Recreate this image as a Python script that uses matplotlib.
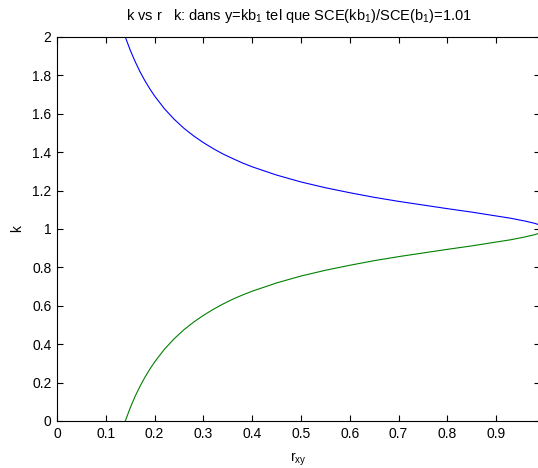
import matplotlib
matplotlib.use("Agg")
import matplotlib.pyplot as plt
from matplotlib.ticker import FormatStrFormatter

# r values read along the x axis
r = [0.13, 0.14, 0.15, 0.16, 0.17, 0.18, 0.19, 0.20, 0.22, 0.24, 0.26, 0.28,
     0.30, 0.32, 0.34, 0.36, 0.38, 0.40, 0.45, 0.50, 0.55, 0.60, 0.65, 0.70,
     0.75, 0.80, 0.85, 0.90, 0.93, 0.95, 0.96, 0.97, 0.98, 0.99]

# upper branch (blue)
k_high = [2.079, 2.000, 1.932, 1.873, 1.820, 1.773, 1.731, 1.693, 1.627, 1.572,
          1.525, 1.485, 1.450, 1.419, 1.391, 1.367, 1.344, 1.324, 1.281, 1.245,
          1.215, 1.189, 1.165, 1.144, 1.125, 1.106, 1.088, 1.068, 1.056, 1.046,
          1.041, 1.035, 1.029, 1.020]

# lower branch (green)
k_low = [-0.079, 0.000, 0.068, 0.128, 0.180, 0.227, 0.269, 0.307, 0.373, 0.428,
         0.475, 0.515, 0.550, 0.581, 0.609, 0.634, 0.656, 0.676, 0.719, 0.755,
         0.785, 0.811, 0.835, 0.856, 0.875, 0.894, 0.912, 0.932, 0.944, 0.954,
         0.959, 0.965, 0.971, 0.980]

plt.rcParams["font.family"] = ["Liberation Sans", "DejaVu Sans"]
plt.rcParams["font.size"] = 10
plt.rcParams["mathtext.default"] = "regular"

fig = plt.figure(figsize=(5.38, 4.68), dpi=100)
ax = fig.add_axes([57 / 538, 47 / 468, 483 / 538, 384 / 468])

ax.plot(r, k_high, color="#0000ff", linewidth=0.8)
ax.plot(r, k_low, color="#008000", linewidth=0.8)

ax.set_xlim(0, 0.99)
ax.set_ylim(0, 2)
ax.set_xticks([0, 0.1, 0.2, 0.3, 0.4, 0.5, 0.6, 0.7, 0.8, 0.9])
ax.set_yticks([0, 0.2, 0.4, 0.6, 0.8, 1, 1.2, 1.4, 1.6, 1.8, 2])
ax.xaxis.set_major_formatter(FormatStrFormatter("%g"))
ax.yaxis.set_major_formatter(FormatStrFormatter("%g"))
ax.tick_params(direction="in", length=4, width=0.8, top=True, right=True, pad=4)
for s in ax.spines.values():
    s.set_linewidth(0.8)

ax.set_title("k vs r   k: dans y=kb$_1$ tel que SCE(kb$_1$)/SCE(b$_1$)=1.01",
             fontsize=10.5, pad=12)
ax.set_xlabel("r$_{xy}$", labelpad=7)
ax.set_ylabel("k", labelpad=6)

fig.savefig("out.png", dpi=100)
